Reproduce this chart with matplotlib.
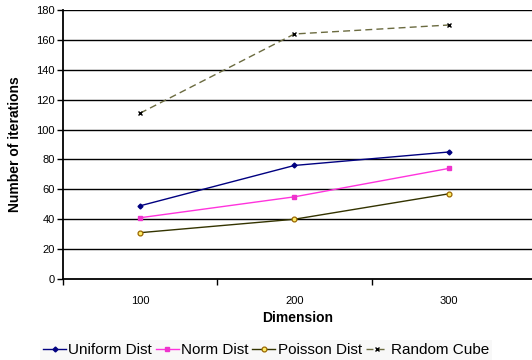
import numpy as np
import matplotlib.pyplot as plt

plt.rcParams['font.family'] = ['Liberation Sans', 'DejaVu Sans']

dims = ['100', '200', '300']
uniform = [49, 76, 85]
norm = [41, 55, 74]
poisson = [31, 40, 57]
cube = [111, 164, 170]

x = np.arange(1, len(dims) + 1)

fig = plt.figure(figsize=(5.32, 3.6), dpi=100)
ax = fig.add_axes([0.1184, 0.225, 0.8816, 0.747])

for y in range(20, 181, 20):
    ax.axhline(y, color='black', lw=1.0, zorder=0)

ax.plot(x, uniform, color='#000080', lw=1.0, marker='D', ms=2.5,
        mfc='#000080', mec='#000080', label='Uniform Dist')
ax.plot(x, norm, color='#ff33dd', lw=1.0, marker='s', ms=3.5,
        mfc='#ee33cc', mec='#ee33cc', label='Norm Dist')
ax.plot(x, poisson, color='#333300', lw=1.0, marker='o', ms=3.5,
        mfc='#ffee66', mec='#996600', mew=0.9, label='Poisson Dist')
ax.plot(x, cube, color='#6b6b40', lw=1.0, ls=(0, (5, 3)), marker='x', ms=3.5,
        mec='black', mew=1.0, label='Random Cube')

ax.set_xlim(0.5, 3.54)
ax.set_ylim(0, 180)
ax.set_yticks(range(0, 181, 20))
ax.set_xticks(x)
ax.set_xticklabels(dims)
ax.set_xticks([0.5, 1.5, 2.5], minor=True)
ax.tick_params(axis='x', which='major', length=0, pad=12, labelsize=8)
ax.tick_params(axis='x', which='minor', length=4, width=1.0, direction='out')
ax.tick_params(axis='y', length=4, width=1.0, labelsize=8, pad=2)

for side in ['top', 'right']:
    ax.spines[side].set_visible(False)
ax.spines['left'].set_linewidth(1.3)
ax.spines['bottom'].set_linewidth(1.3)

ax.set_xlabel('Dimension', fontsize=10, fontweight='bold', labelpad=4)
ax.set_ylabel('Number of iterations', fontsize=10, fontweight='bold', labelpad=10)

leg = fig.legend(loc='center', bbox_to_anchor=(0.5, 0.028), ncol=4,
                 fontsize=11, frameon=True, handlelength=1.5,
                 handletextpad=0.15, columnspacing=0.25, borderpad=0.2)
leg.get_frame().set_facecolor('#f7f7f7')
leg.get_frame().set_edgecolor('none')
leg.get_frame().set_boxstyle('square', pad=0.0)

fig.savefig('out.png', dpi=100)
